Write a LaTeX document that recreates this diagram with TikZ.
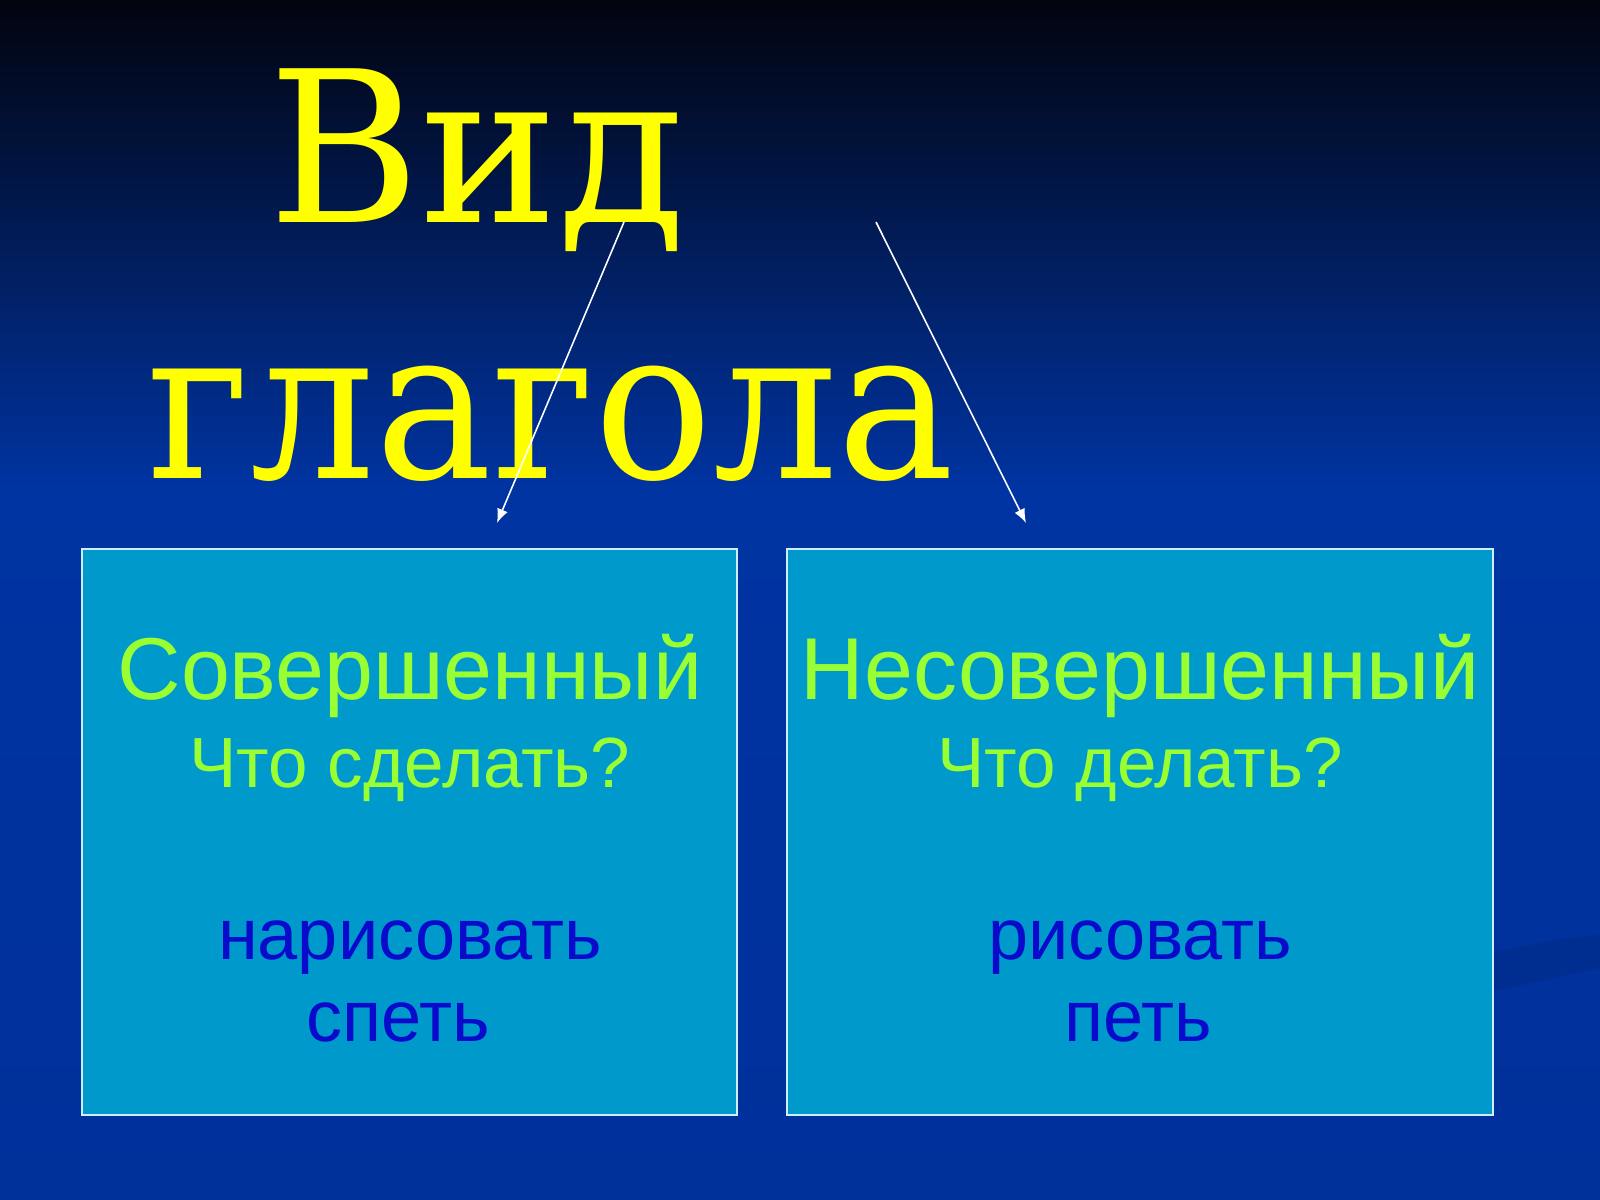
\documentclass[tikz,border=0pt]{standalone}
\usepackage{fontspec}
\setmainfont{DejaVu Serif}[FakeStretch=0.93]
\newfontfamily\vidfont{DejaVu Serif}[FakeStretch=0.98]
\setsansfont{Liberation Sans}
\usetikzlibrary{arrows.meta}

\definecolor{bgtop}{HTML}{02040F}
\definecolor{bgblue}{HTML}{0034A2}
\definecolor{bgbottom}{HTML}{00309A}
\definecolor{boxfill}{HTML}{0099CC}
\definecolor{boxline}{HTML}{CCEEFF}
\definecolor{titleyellow}{HTML}{FFFF00}
\definecolor{kindgreen}{HTML}{99FF33}
\definecolor{verbblue}{HTML}{0A0ACC}

\tikzset{
	title/.style = {anchor=base west, inner sep=0pt, text=titleyellow, font=\fontsize{60}{60}\selectfont},
	kindbox/.style = {draw=boxline, fill=boxfill, line width=0.6pt, minimum height=5.66cm},
	kind/.style = {anchor=base, inner sep=0pt, text=kindgreen, font=\sffamily\fontsize{25}{25}\selectfont},
	question/.style = {anchor=base, inner sep=0pt, text=kindgreen, font=\sffamily\fontsize{20.2}{20.2}\selectfont},
	verb/.style = {anchor=base, inner sep=0pt, text=verbblue, font=\sffamily\fontsize{20.5}{20.5}\selectfont},
	pointer/.style = {draw=white, line width=0.45pt, -{Latex[length=4pt, width=3.2pt]}}
}

\begin{document}
\begin{tikzpicture}[x = 0.01cm, y = -0.01cm]
	\useasboundingbox (0,0) rectangle (1600,1200);

	% background
	\shade[top color=bgtop, bottom color=bgblue] (0,0) rectangle (1600,490);
	\shade[top color=bgblue, bottom color=bgbottom] (0,490) rectangle (1600,1200);
	\fill[black, opacity=0.08] (1493,952) .. controls (1530,945) and (1570,937) .. (1600,935)
		-- (1600,968) .. controls (1560,975) and (1530,985) .. (1493,990) -- cycle;

	% title
	\node[title] (vid) at (268,222) {\vidfont Вид};
	\node[title] (glagola) at (147,478) {глагола};

	% boxes
	\node[kindbox, minimum width=6.55cm] (sovbox) at (409.5,832) {};
	\node[kindbox, minimum width=7.06cm] (nesovbox) at (1140,832) {};

	% perfective
	\def\cx{410}
	\node[kind] (sov) at (\cx,699) {Совершенный};
	\node[question] (sovq) at (\cx,787) {Что сделать?};
	\node[verb] (sova) at (\cx,959) {нарисовать};
	\node[verb] (sovb) at (398,1041) {спеть};

	% imperfective
	\def\cx{1140}
	\node[kind] (nesov) at (\cx,699) {Несовершенный};
	\node[question] (nesovq) at (\cx,787) {Что делать?};
	\node[verb] (nesova) at (\cx,959) {рисовать};
	\node[verb] (nesovb) at (1138,1041) {петь};

	% arrows
	\coordinate (startL) at (624,222);
	\coordinate (endL) at (497,523);
	\coordinate (startR) at (876,222);
	\coordinate (endR) at (1026,523);
	\draw[pointer] (startL) -- (endL);
	\draw[pointer] (startR) -- (endR);
\end{tikzpicture}
\end{document}
